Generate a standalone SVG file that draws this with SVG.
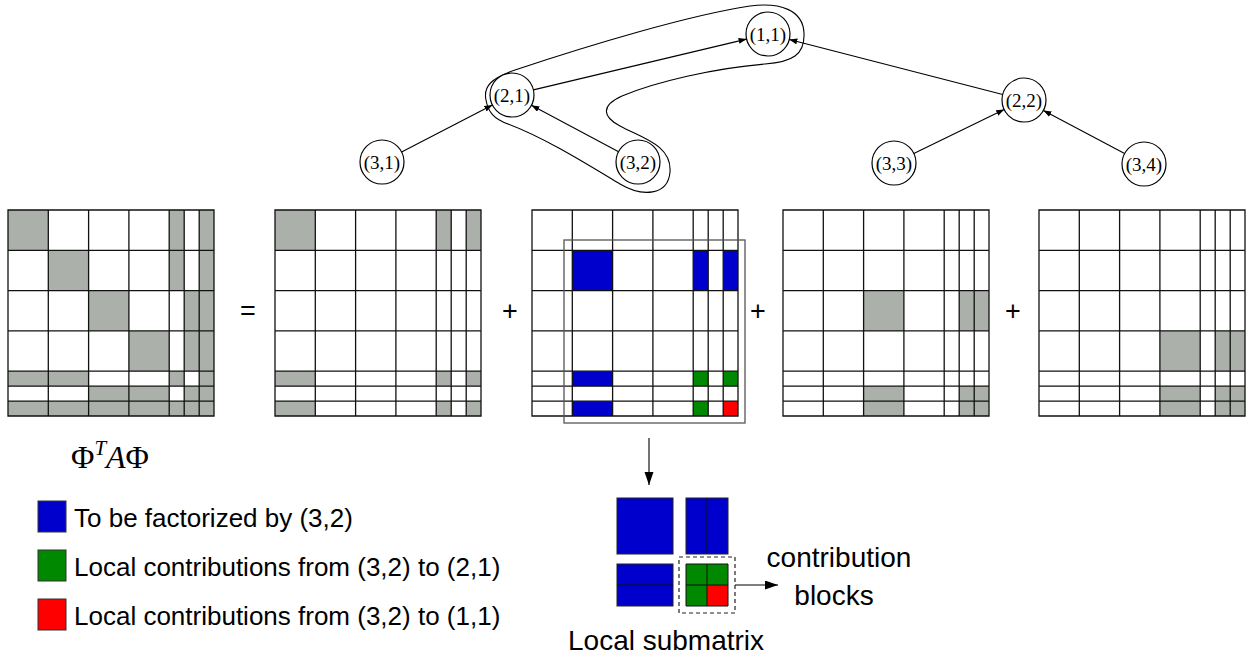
<svg xmlns="http://www.w3.org/2000/svg" xmlns:xlink="http://www.w3.org/1999/xlink" width="1256" height="662" viewBox="0 0 1256 662">
<style>
.g{fill:#acb0aa}
.b{fill:#0000cc}
.gr{fill:#008800}
.r{fill:#ff0000}
.grid{fill:none;stroke:#111;stroke-width:1.3}
.node circle{fill:#fff;stroke:#000;stroke-width:1.2}
.node text{font-family:"Liberation Serif",serif;font-size:19px;text-anchor:middle}
.edge{stroke:#000;stroke-width:1.1;fill:none}
.sans{font-family:"Liberation Sans",Arial,sans-serif;fill:#000}
.sq{stroke:#333;stroke-width:1}
</style>
<defs>
<marker id="ah" markerUnits="userSpaceOnUse" markerWidth="9" markerHeight="7" refX="8" refY="3" orient="auto"><path d="M0,0L8,3L0,6Z" fill="#000"/></marker>
<marker id="ab" markerUnits="userSpaceOnUse" markerWidth="14" markerHeight="10" refX="13" refY="4.5" orient="auto"><path d="M0,0L13,4.5L0,9Z" fill="#000"/></marker>
<path id="grid" class="grid" d="M0,0H206V206H0Z M40.3,0V206 M80.6,0V206 M120.9,0V206 M161.2,0V206 M176.2,0V206 M191.2,0V206 M0,40.3H206 M0,80.6H206 M0,120.9H206 M0,161.2H206 M0,176.2H206 M0,191.2H206"/>
</defs>

<g id="connectors">
<path class="edge" d="M401.6,151.9L492.4,105.1" marker-end="url(#ah)"/>
<path class="edge" d="M618.6,151.7L531.4,105.3" marker-end="url(#ah)"/>
<path class="edge" d="M533.4,89.9L746.6,39.1" marker-end="url(#ah)"/>
<path class="edge" d="M1002.7,94.5L789.3,39.5" marker-end="url(#ah)"/>
<path class="edge" d="M913.8,153.4L1004.2,109.6" marker-end="url(#ah)"/>
<path class="edge" d="M1124.6,153.6L1043.4,110.4" marker-end="url(#ah)"/>
<path id="loop" class="edge" d="M486,100 C483,86 492,78 515,70 C590,45 690,15 750,6 C780,2 803,10 804,33 C805,55 792,62 765,64 C715,68 655,82 622,96 C600,106 603,117 620,126 C642,138 672,145 670,172 C668,196 642,197 620,184 C585,163 545,138 508,124 C494,119 488,112 486,100Z"/>
<path class="edge" d="M649,438V485" stroke-width="1.3" marker-end="url(#ab)"/>
<path class="edge" d="M735,585H778" stroke-width="1.3" marker-end="url(#ab)"/>
</g>

<g id="n11" class="node"><circle cx="768" cy="34" r="22"/><text x="768" y="40.5">(1,1)</text></g>
<g id="n21" class="node"><circle cx="512" cy="95" r="22"/><text x="512" y="101.5">(2,1)</text></g>
<g id="n22" class="node"><circle cx="1024" cy="100" r="22"/><text x="1024" y="106.5">(2,2)</text></g>
<g id="n31" class="node"><circle cx="382" cy="162" r="22"/><text x="382" y="168.5">(3,1)</text></g>
<g id="n32" class="node"><circle cx="638" cy="162" r="22"/><text x="638" y="168.5">(3,2)</text></g>
<g id="n33" class="node"><circle cx="894" cy="163" r="22"/><text x="894" y="169.5">(3,3)</text></g>
<g id="n34" class="node"><circle cx="1144" cy="164" r="22"/><text x="1144" y="170.5">(3,4)</text></g>

<g id="m1" transform="translate(8,210)">
<rect class="g" x="0" y="0" width="40.3" height="40.3"/>
<rect class="g" x="161.2" y="0" width="15" height="40.3"/>
<rect class="g" x="191.2" y="0" width="14.8" height="40.3"/>
<rect class="g" x="40.3" y="40.3" width="40.3" height="40.3"/>
<rect class="g" x="161.2" y="40.3" width="15" height="40.3"/>
<rect class="g" x="191.2" y="40.3" width="14.8" height="40.3"/>
<rect class="g" x="80.6" y="80.6" width="40.3" height="40.3"/>
<rect class="g" x="176.2" y="80.6" width="29.8" height="40.3"/>
<rect class="g" x="120.9" y="120.9" width="40.3" height="40.3"/>
<rect class="g" x="176.2" y="120.9" width="29.8" height="40.3"/>
<rect class="g" x="0" y="161.2" width="80.6" height="15"/>
<rect class="g" x="161.2" y="161.2" width="15" height="15"/>
<rect class="g" x="191.2" y="161.2" width="14.8" height="15"/>
<rect class="g" x="80.6" y="176.2" width="80.6" height="15"/>
<rect class="g" x="176.2" y="176.2" width="29.8" height="15"/>
<rect class="g" x="0" y="191.2" width="206" height="14.8"/>
<use xlink:href="#grid" href="#grid"/>
</g>

<g id="m2" transform="translate(275,210)">
<rect class="g" x="0" y="0" width="40.3" height="40.3"/>
<rect class="g" x="161.2" y="0" width="15" height="40.3"/>
<rect class="g" x="191.2" y="0" width="14.8" height="40.3"/>
<rect class="g" x="0" y="161.2" width="40.3" height="15"/>
<rect class="g" x="161.2" y="161.2" width="15" height="15"/>
<rect class="g" x="191.2" y="161.2" width="14.8" height="15"/>
<rect class="g" x="0" y="191.2" width="40.3" height="14.8"/>
<rect class="g" x="161.2" y="191.2" width="15" height="14.8"/>
<rect class="g" x="191.2" y="191.2" width="14.8" height="14.8"/>
<use xlink:href="#grid" href="#grid"/>
</g>

<g id="m3" transform="translate(532,210)">
<rect class="b" x="40.3" y="40.3" width="40.3" height="40.3"/>
<rect class="b" x="161.2" y="40.3" width="15" height="40.3"/>
<rect class="b" x="191.2" y="40.3" width="14.8" height="40.3"/>
<rect class="b" x="40.3" y="161.2" width="40.3" height="15"/>
<rect class="b" x="40.3" y="191.2" width="40.3" height="14.8"/>
<rect class="gr" x="161.2" y="161.2" width="15" height="15"/>
<rect class="gr" x="191.2" y="161.2" width="14.8" height="15"/>
<rect class="gr" x="161.2" y="191.2" width="15" height="14.8"/>
<rect class="r" x="191.2" y="191.2" width="14.8" height="14.8"/>
<use xlink:href="#grid" href="#grid"/>
<rect x="32" y="30" width="181" height="183" fill="none" stroke="#555" stroke-width="1.3"/>
</g>

<g id="m4" transform="translate(783,210)">
<rect class="g" x="80.6" y="80.6" width="40.3" height="40.3"/>
<rect class="g" x="176.2" y="80.6" width="29.8" height="40.3"/>
<rect class="g" x="80.6" y="176.2" width="40.3" height="29.8"/>
<rect class="g" x="176.2" y="176.2" width="29.8" height="29.8"/>
<use xlink:href="#grid" href="#grid"/>
</g>

<g id="m5" transform="translate(1039,210)">
<rect class="g" x="120.9" y="120.9" width="40.3" height="40.3"/>
<rect class="g" x="176.2" y="120.9" width="29.8" height="40.3"/>
<rect class="g" x="120.9" y="176.2" width="40.3" height="29.8"/>
<rect class="g" x="176.2" y="176.2" width="29.8" height="29.8"/>
<use xlink:href="#grid" href="#grid"/>
</g>

<g id="ops" class="sans" font-size="27" text-anchor="middle">
<text x="248" y="320">=</text>
<text x="510" y="320">+</text>
<text x="758" y="320">+</text>
<text x="1013" y="320">+</text>
</g>

<g id="label" font-family="'Liberation Serif',serif" font-size="32" text-anchor="middle">
<text x="110" y="468">Φ<tspan font-size="21" font-style="italic" dy="-13">T</tspan><tspan font-style="italic" dy="13">A</tspan>Φ</text>
</g>

<g id="local">
<rect class="b" x="617" y="498" width="56" height="56" stroke="#222" stroke-width="1"/>
<rect class="b" x="686" y="498" width="42" height="56" stroke="#222" stroke-width="1"/>
<path d="M707,498V554" stroke="#111" stroke-width="1"/>
<rect class="b" x="617" y="564" width="56" height="42" stroke="#222" stroke-width="1"/>
<path d="M617,585H673" stroke="#111" stroke-width="1"/>
<rect class="gr" x="686" y="564" width="21" height="21"/>
<rect class="gr" x="707" y="564" width="21" height="21"/>
<rect class="gr" x="686" y="585" width="21" height="21"/>
<rect class="r" x="707" y="585" width="21" height="21"/>
<path d="M686,564H728V606H686Z M707,564V606 M686,585H728" fill="none" stroke="#111" stroke-width="1"/>
<rect x="679" y="557" width="56" height="56" fill="none" stroke="#222" stroke-width="1.2" stroke-dasharray="4,3"/>
<text class="sans" x="568" y="650" font-size="28">Local submatrix</text>
<text class="sans" x="839" y="567" font-size="28" text-anchor="middle">contribution</text>
<text class="sans" x="834" y="605" font-size="28" text-anchor="middle">blocks</text>
</g>

<g id="legend">
<rect class="b sq" x="38" y="501" width="28" height="31"/>
<rect class="gr sq" x="38" y="550" width="28" height="31"/>
<rect class="r sq" x="38" y="599" width="28" height="31"/>
<text class="sans" x="74" y="527" font-size="26">To be factorized by (3,2)</text>
<text class="sans" x="74" y="576" font-size="26">Local contributions from (3,2) to (2,1)</text>
<text class="sans" x="74" y="625" font-size="26">Local contributions from (3,2) to (1,1)</text>
</g>
</svg>
